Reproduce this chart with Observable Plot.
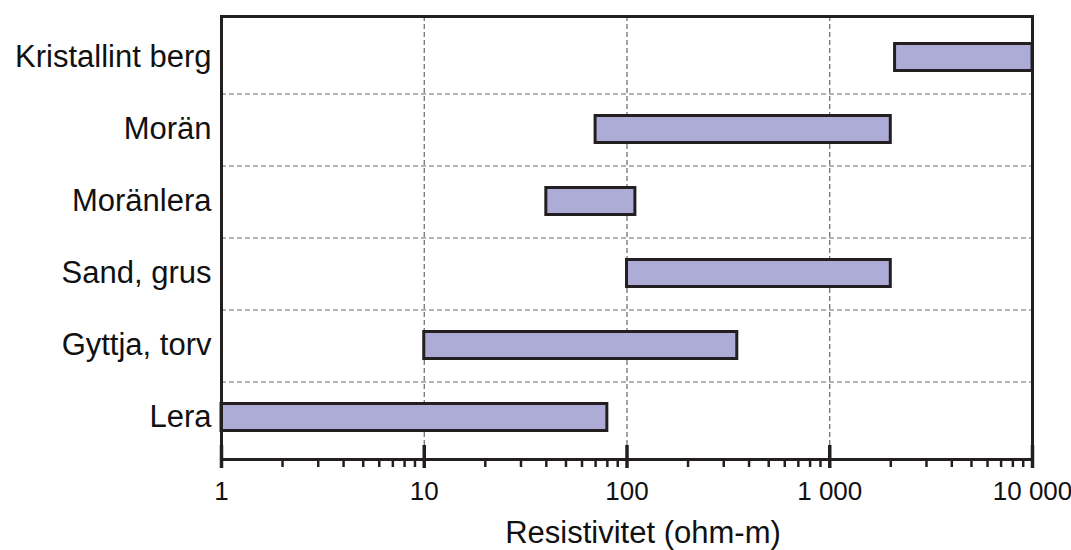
<!DOCTYPE html>
<html>
<head>
<meta charset="utf-8">
<script src="https://cdn.jsdelivr.net/npm/d3@7"></script>
<script src="https://cdn.jsdelivr.net/npm/@observablehq/plot@0.6"></script>
<style>
  html, body { margin: 0; padding: 0; background: white; }
</style>
</head>
<body>
<div id="chart"></div>
<script>
const categories = ["Kristallint berg", "Morän", "Moränlera", "Sand, grus", "Gyttja, torv", "Lera"];
const low  = [2100, 70, 40, 100, 10, 1];
const high = [10000, 2000, 110, 2000, 350, 80];
const xTicks = [1, 10, 100, 1000, 10000];
const tickLabels = ["1", "10", "100", "1 000", "10 000"];
const gridX = [10, 100, 1000];
const xLabel = "Resistivitet (ohm-m)";

const data = categories.map((c, i) => ({category: c, low: low[i], high: high[i]}));
const minorTicks = [];
for (let k = 0; k < xTicks.length - 1; k++) {
  for (let m = 2; m <= 9; m++) minorTicks.push(m * xTicks[k]);
}

const ink = "#231f20";
const chart = Plot.plot({
  width: 1071,
  height: 550,
  marginLeft: 221,
  marginRight: 39,
  marginTop: 16,
  marginBottom: 91,
  style: {fontFamily: "'Liberation Sans', Arial, sans-serif", background: "white", color: "#111"},
  x: {type: "log", domain: [1, 10000]},
  y: {domain: categories, range: [18, 455], padding: 0},
  marks: [
    Plot.ruleX(gridX, {stroke: "#666", strokeWidth: 1.2, strokeDasharray: "5,3"}),
    Plot.ruleY(categories.slice(0, -1), {y: d => d, dy: 36.5, stroke: "#666", strokeWidth: 1.2, strokeDasharray: "5,3"}),
    Plot.barX(data, {x1: "low", x2: "high", y: "category", fill: "#acacd6", stroke: ink, strokeWidth: 3, insetTop: 22.5, insetBottom: 22.5}),
    Plot.frame({stroke: ink, strokeWidth: 3}),
    Plot.axisY({tickSize: 0, tickPadding: 10, fontSize: 31, label: null}),
    Plot.axisX({ticks: minorTicks, tickSize: 8, text: null, strokeWidth: 2.5, stroke: ink, label: null}),
    Plot.axisX({ticks: xTicks, tickSize: 23, dy: -14, text: null, strokeWidth: 3.5, stroke: ink, label: null}),
    Plot.axisX({ticks: xTicks, tickSize: 0, tickPadding: 22, fontSize: 26, tickFormat: d => tickLabels[xTicks.indexOf(d)], label: null}),
    Plot.text([xLabel], {frameAnchor: "bottom", dx: 16, dy: 74, lineAnchor: "middle", fontSize: 31, fill: "#111"})
  ]
});
document.getElementById("chart").appendChild(chart);
</script>
</body>
</html>
